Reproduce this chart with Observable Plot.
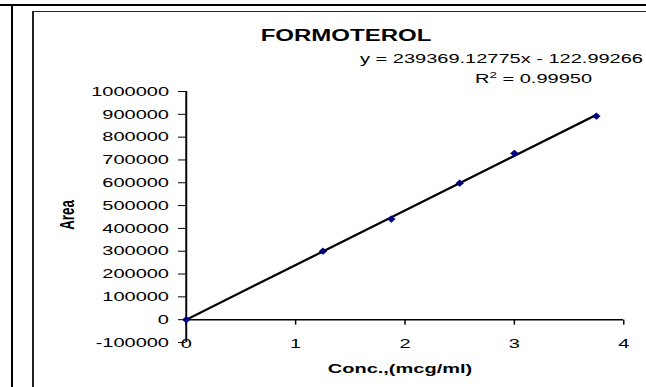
<!DOCTYPE html>
<html>
<head>
<meta charset="utf-8">
<script src="https://cdn.jsdelivr.net/npm/d3@7"></script>
<script src="https://cdn.jsdelivr.net/npm/@observablehq/plot@0.6"></script>
<style>
  html, body { margin: 0; padding: 0; background: #fff; overflow: hidden; width: 646px; height: 387px; }
  #wrap { position: relative; width: 646px; height: 387px; overflow: hidden; background: #fff; }
  #stage { position: absolute; left: 0; top: 0; height: 387px; transform-origin: 0 0;
           font-family: "Liberation Sans", Arial, sans-serif; color: #000; }
  .txt { position: absolute; white-space: nowrap; line-height: 1; }
  .ln { position: absolute; background: #000; }
</style>
</head>
<body>
<div id="wrap">
  <div class="ln" style="left:0;top:4px;width:646px;height:2px;"></div>
  <div class="ln" style="left:10.5px;top:5px;width:2px;height:382px;"></div>
  <div class="ln" style="left:32px;top:11px;width:614px;height:1px;background:#222;"></div>
  <div class="ln" style="left:32px;top:11px;width:1.5px;height:376px;background:#222;"></div>
  <div id="stage"></div>
</div>
<script>
// ---- data ----
const conc = [0, 1.25, 1.875, 2.5, 3.0, 3.75];
const area = [0, 300000, 441000, 598000, 729000, 892000];
const yTicks = [-100000, 0, 100000, 200000, 300000, 400000, 500000, 600000, 700000, 800000, 900000, 1000000];
const xTicks = [0, 1, 2, 3, 4];
const slope = 239369.12775;
const intercept = -122.99266;
const trendX = [0, 3.75];
const titleText = "FORMOTEROL";
const eqText = "y = 239369.12775x - 122.99266";
const r2Value = "0.99950";
const xTitle = "Conc.,(mcg/ml)";
const yTitle = "Area";

// ---- layout (the reference is horizontally stretched) ----
const S = 1.5;
const W = 646 / S;
const stage = document.getElementById("stage");
stage.style.width = W + "px";
stage.style.transform = `scaleX(${S})`;

const points = conc.map((c, i) => ({x: c, y: area[i]}));
const trend = trendX.map(x => ({x, y: slope * x + intercept}));

const diamond = {draw(ctx) { ctx.moveTo(0, -3.6); ctx.lineTo(2.8, 0); ctx.lineTo(0, 3.6); ctx.lineTo(-2.8, 0); ctx.closePath(); }};
const tickDown = {draw(ctx) { ctx.moveTo(0, 0); ctx.lineTo(0, 5); }};

const chart = Plot.plot({
  width: W,
  height: 387,
  marginLeft: 185.5 / S,
  marginRight: W - 623 / S,
  marginTop: 91,
  marginBottom: 45,
  x: {domain: [0, 4]},
  y: {domain: [-100000, 1000000]},
  style: {fontFamily: '"Liberation Sans", Arial, sans-serif', fontSize: "13.33px", color: "#000", background: "transparent"},
  marks: [
    Plot.axisY(yTicks, {tickSize: 5, tickPadding: 6.5, tickFormat: d => String(d), label: null, fontSize: 13.33, strokeWidth: 1}),
    Plot.axisX(xTicks, {tickSize: 0, tickPadding: -3.6, tickFormat: d => String(d), label: null, fontSize: 13.33}),
    Plot.ruleX([0], {stroke: "#000", strokeWidth: 1.3}),
    Plot.ruleY([0], {stroke: "#000", strokeWidth: 1.5}),
    Plot.dot(xTicks, {x: d => d, y: () => 0, symbol: tickDown, stroke: "#000", fill: "none", strokeWidth: 1}),
    Plot.line(trend, {x: "x", y: "y", stroke: "#000", strokeWidth: 2}),
    Plot.dot(points, {x: "x", y: "y", symbol: diamond, fill: "#000080", stroke: "none"})
  ]
});
chart.style.position = "absolute";
chart.style.left = "0px";
chart.style.top = "0px";
stage.appendChild(chart);

function text(str, css, html) { const d = document.createElement("div"); d.className = "txt"; d.style.cssText += css; if (html) d.innerHTML = str; else d.textContent = str; stage.appendChild(d); return d; }
text(titleText, `left:${346 / S}px;top:27.5px;transform:translateX(-50%);font-size:16px;font-weight:bold;`);
text(eqText, `right:${3 / S}px;top:51.7px;font-size:13.33px;`);
text(`R<sup style="font-size:9px;vertical-align:5px;line-height:0">2</sup> = ${r2Value}`, `left:${475 / S}px;top:71.7px;font-size:13.33px;`, true);
text(xTitle, `left:${400 / S}px;top:361.5px;transform:translateX(-50%);font-size:13.33px;font-weight:bold;`);
text(yTitle, `left:${67 / S}px;top:215px;transform:translate(-50%,-50%) rotate(-90deg);font-size:13.33px;font-weight:bold;`);
</script>
</body>
</html>
